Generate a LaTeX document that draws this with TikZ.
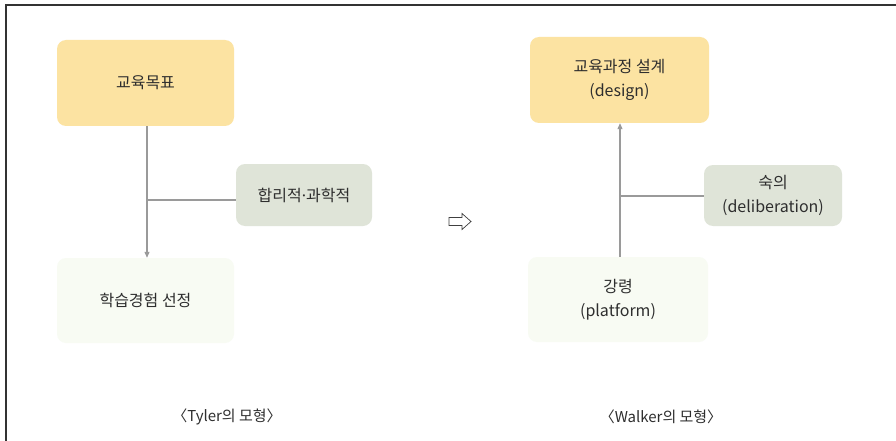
\documentclass[tikz,border=0pt]{standalone}
\usepackage{fontspec}
\setmainfont{Noto Sans CJK KR}
\newfontfamily\dotfont{Noto Sans}
\usetikzlibrary{arrows.meta}
\definecolor{yel}{HTML}{FCE3A2}
\definecolor{grn}{HTML}{DFE4D8}
\definecolor{pale}{HTML}{F8FBF3}
\definecolor{txt}{HTML}{2E2E2E}
\definecolor{ln}{HTML}{9A9A9A}
\tikzset{
  box/.style={rounded corners=9pt, inner sep=0pt, align=center, text=txt, font=\fontsize{16}{24}\selectfont},
  conn/.style={draw=ln, line width=1.1pt},
  arr/.style={conn, -{Triangle[length=6pt,width=5pt]}},
  captext/.style={text=txt, font=\fontsize{15}{18}\selectfont},
}
\begin{document}
\begin{tikzpicture}[x=1pt,y=-1pt]
\useasboundingbox (0,0) rectangle (896,441);
\fill[white] (0,0) rectangle (896,441);
\draw[line width=1.8pt, draw=black!80] (6,441) -- (6,5) -- (896,5);
% left model
\node[box, fill=yel, minimum width=177pt, minimum height=86pt] (a) at (145.5,83) {교육목표};
\node[box, fill=grn, minimum width=136pt, minimum height=62pt] (b) at (304,195) {합리적{\dotfont ·}과학적};
\node[box, fill=pale, minimum width=177pt, minimum height=85pt] (c) at (145.5,300.5) {학습경험 선정};
\coordinate (j1) at (147,200);
\draw[arr] (a.south -| j1) -- (c.north -| j1);
\draw[conn] (j1) -- (b.west |- j1);
% arrow between
\draw[draw=black!75, line width=0.7pt, line join=miter]
  (449,217.5) -- (462,217.5) -- (462,213.5) -- (471,221.5) -- (462,229.5) -- (462,225.5) -- (449,225.5) -- cycle;
% right model
\node[box, fill=yel, minimum width=179pt, minimum height=86pt] (d) at (619.5,80) {교육과정 설계\\(design)};
\node[box, fill=grn, minimum width=138pt, minimum height=61pt] (e) at (773,195.5) {숙의\\(deliberation)};
\node[box, fill=pale, minimum width=180pt, minimum height=85pt] (f) at (618,299.5) {강령\\(platform)};
\coordinate (j2) at (620,196);
\draw[arr] (f.north -| j2) -- (d.south -| j2);
\draw[conn] (j2) -- (e.west |- j2);
% captions
\node[captext] (t1) at (227,417) {〈Tyler의 모형〉};
\node[captext] (t2) at (661,417) {〈Walker의 모형〉};
\end{tikzpicture}
\end{document}
